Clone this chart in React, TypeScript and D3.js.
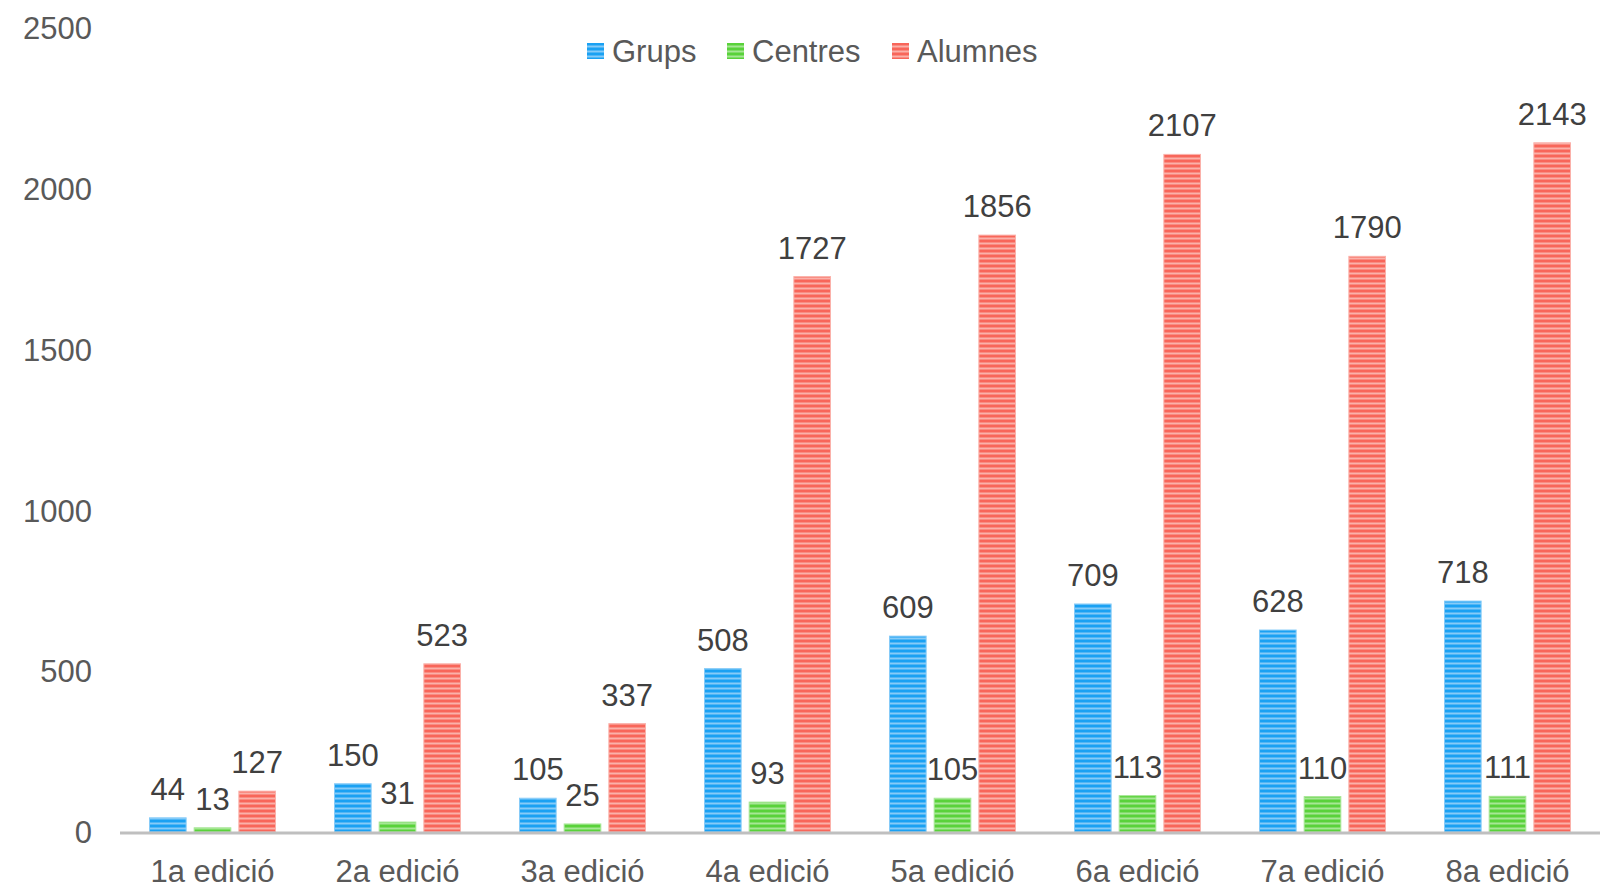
import { useEffect } from "react";
import * as d3 from "d3";

const categories = [
  "1a edició",
  "2a edició",
  "3a edició",
  "4a edició",
  "5a edició",
  "6a edició",
  "7a edició",
  "8a edició",
];
const seriesNames = ["Grups", "Centres", "Alumnes"];
const grups = [44, 150, 105, 508, 609, 709, 628, 718];
const centres = [13, 31, 25, 93, 105, 113, 110, 111];
const alumnes = [127, 523, 337, 1727, 1856, 2107, 1790, 2143];
const yTicks = [0, 500, 1000, 1500, 2000, 2500];

const palette = [
  { base: "#1aa1f3", stripe: "#86cbf8", id: "pat-grups" },
  { base: "#59d23a", stripe: "#a6e795", id: "pat-centres" },
  { base: "#f8665a", stripe: "#fbb1aa", id: "pat-alumnes" },
];

const W = 1613;
const H = 886;
const FONT = "'Liberation Sans', Arial, sans-serif";

export default function App() {
  useEffect(() => {
    document.body.style.margin = "0";
  }, []);

  const values = [grups, centres, alumnes];
  const margin = { top: 28, right: 13, bottom: 54, left: 120 };
  const x0 = d3
    .scaleBand<string>()
    .domain(categories)
    .range([margin.left, W - margin.right])
    .padding(0);
  const x1 = d3
    .scaleBand<string>()
    .domain(seriesNames)
    .range([29.5, x0.bandwidth() - 29.5])
    .paddingInner(0.18)
    .paddingOuter(0);
  const y = d3.scaleLinear().domain([0, 2500]).range([H - margin.bottom, margin.top]);

  const legendX = [587, 727, 892];

  return (
    <svg width={W} height={H} style={{ display: "block", background: "#fff" }}>
      <defs>
        {palette.map((p) => (
          <pattern
            key={p.id}
            id={p.id}
            patternUnits="userSpaceOnUse"
            width={10}
            height={5}
          >
            <rect width={10} height={5} fill={p.base} />
            <rect y={2.5} width={10} height={2} fill={p.stripe} />
          </pattern>
        ))}
      </defs>

      {/* y axis labels */}
      <g fontFamily={FONT} fontSize={31} fill="#595959" textAnchor="end">
        {yTicks.map((t) => (
          <text key={t} x={92} y={y(t)} dy="0.36em">
            {t}
          </text>
        ))}
      </g>

      {/* bars */}
      {categories.map((c, ci) => (
        <g key={c} transform={`translate(${x0(c)},0)`}>
          {seriesNames.map((s, si) => {
            const v = values[si][ci];
            return (
              <g key={s}>
                <rect
                  x={x1(s)}
                  y={y(v)}
                  width={x1.bandwidth()}
                  height={y(0) - y(v)}
                  fill={`url(#${palette[si].id})`}
                  stroke={palette[si].stripe}
                  strokeWidth={1}
                />
                <text
                  x={(x1(s) ?? 0) + x1.bandwidth() / 2}
                  y={y(v) - 18}
                  textAnchor="middle"
                  fontFamily={FONT}
                  fontSize={31}
                  fill="#404040"
                >
                  {v}
                </text>
              </g>
            );
          })}
        </g>
      ))}

      {/* x axis */}
      <line
        x1={margin.left}
        x2={W - margin.right}
        y1={y(0) + 1}
        y2={y(0) + 1}
        stroke="#bfbfbf"
        strokeWidth={3}
      />
      <g fontFamily={FONT} fontSize={31} fill="#595959" textAnchor="middle">
        {categories.map((c) => (
          <text key={c} x={(x0(c) ?? 0) + x0.bandwidth() / 2} y={882}>
            {c}
          </text>
        ))}
      </g>

      {/* legend */}
      <g fontFamily={FONT} fontSize={31} fill="#595959">
        {seriesNames.map((s, i) => (
          <g key={s} transform={`translate(${legendX[i]},43)`}>
            <rect width={17} height={16} fill={`url(#${palette[i].id})`} />
            <text x={25} y={8} dy="0.36em">
              {s}
            </text>
          </g>
        ))}
      </g>
    </svg>
  );
}
